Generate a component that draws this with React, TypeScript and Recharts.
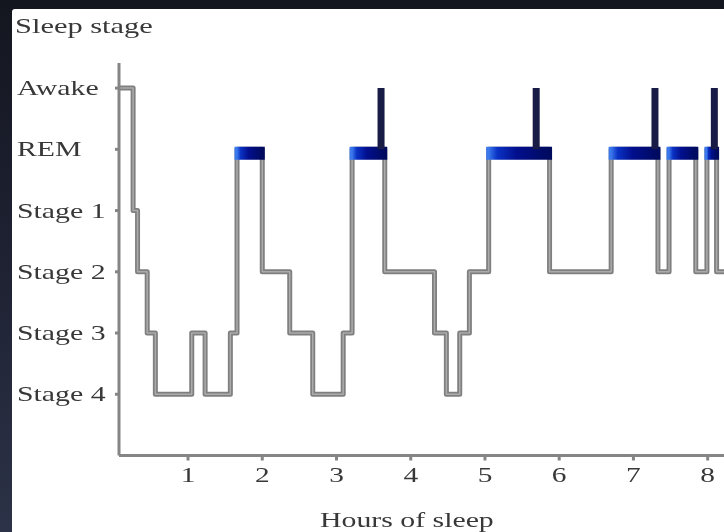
import { LineChart, Line, XAxis, YAxis, ReferenceArea, Label } from 'recharts';

const SERIF = '"Liberation Serif", "Times New Roman", serif';

const STAGE_LABELS = ['Stage 4', 'Stage 3', 'Stage 2', 'Stage 1', 'REM', 'Awake'];
const STAGE_TICKS = [1, 2, 3, 4, 5, 6];
const HOUR_TICKS = [1, 2, 3, 4, 5, 6, 7, 8];

// hypnogram: hour at which each stage starts (held until the next one)
const STEP_HOURS = [
    0.07, 0.26, 0.32, 0.45, 0.56, 1.05, 1.23, 1.57, 1.66, 2.0, 2.37, 2.68, 3.09, 3.21,
    3.65, 4.32, 4.48, 4.66, 4.79, 5.05, 5.87, 6.7, 7.33, 7.48, 7.84, 7.99, 8.12, 8.22,
];
const STEP_STAGES = [
    6, 4, 3, 2, 1, 2, 1, 2, 5, 3, 2, 1, 2, 5,
    3, 2, 1, 2, 3, 5, 3, 5, 3, 5, 3, 5, 3, 3,
];

// short awakenings at the end of REM periods
const AWAKE_HOURS = [3.6, 5.69, 7.29, 8.09];

const REM = 5;
const AWAKE = 6;
const REM_BAR_DEPTH = 0.13;

const hypnogram = STEP_HOURS.map((t, i) => ({ t, stage: STEP_STAGES[i] }));

const remPeriods = hypnogram
    .map((d, i) => (d.stage === REM && i < hypnogram.length - 1 ? [d.t, hypnogram[i + 1].t] : null))
    .filter((p): p is number[] => p !== null);

const awakeSpikes = AWAKE_HOURS.flatMap((t) => [
    { t, stage: REM },
    { t, stage: AWAKE },
    { t, stage: null },
]);

function StageTick({ y, payload }: any) {
    return (
        <text
            transform={`translate(17, ${y + 7}) scale(1.42, 1)`}
            fill="#383838"
            fontSize={21}
            fontFamily={SERIF}
        >
            {STAGE_LABELS[payload.value - 1]}
        </text>
    );
}

function HourTick({ x, y, payload }: any) {
    return (
        <text
            transform={`translate(${x}, ${y + 19}) scale(1.4, 1)`}
            textAnchor="middle"
            fill="#383838"
            fontSize={21}
            fontFamily={SERIF}
        >
            {payload.value}
        </text>
    );
}

export default function App() {
    return (
        <div
            style={{
                position: 'absolute',
                left: 0,
                top: 0,
                width: 724,
                height: 532,
                overflow: 'hidden',
                background: 'linear-gradient(180deg, #14161f 0%, #1e2233 50%, #2c3247 100%)',
            }}
        >
            <div
                style={{
                    position: 'absolute',
                    left: 12,
                    top: 9,
                    right: 0,
                    bottom: 0,
                    background: '#ffffff',
                    borderTopLeftRadius: 3,
                }}
            />
            <div style={{ position: 'absolute', left: 0, top: 0, filter: 'blur(0.7px)' }}>
                <LineChart
                    width={724}
                    height={532}
                    data={hypnogram}
                    margin={{ top: 63, right: 0, bottom: 0, left: 0 }}
                >
                    <defs>
                        <linearGradient id="remGrad" x1="0" y1="0" x2="1" y2="0">
                            <stop offset="0%" stopColor="#3a78ec" />
                            <stop offset="14%" stopColor="#0a32c4" />
                            <stop offset="45%" stopColor="#020f8e" />
                            <stop offset="100%" stopColor="#000a5e" />
                        </linearGradient>
                    </defs>
                    <XAxis
                        type="number"
                        dataKey="t"
                        domain={[0.07, 8.22]}
                        ticks={HOUR_TICKS}
                        height={76.5}
                        stroke="#858585"
                        strokeWidth={3}
                        tickSize={5}
                        tick={<HourTick />}
                    >
                        <Label
                            content={() => (
                                <text
                                    transform="translate(320, 527) scale(1.42, 1)"
                                    fill="#383838"
                                    fontSize={21}
                                    fontFamily={SERIF}
                                >
                                    Hours of sleep
                                </text>
                            )}
                        />
                    </XAxis>
                    <YAxis
                        type="number"
                        domain={[0, 6.41]}
                        ticks={STAGE_TICKS}
                        width={119}
                        stroke="#858585"
                        strokeWidth={3}
                        tickSize={4}
                        tick={<StageTick />}
                    >
                        <Label
                            content={() => (
                                <text
                                    transform="translate(15, 33) scale(1.45, 1)"
                                    fill="#383838"
                                    fontSize={21}
                                    fontFamily={SERIF}
                                >
                                    Sleep stage
                                </text>
                            )}
                        />
                    </YAxis>

                    <Line
                        type="stepAfter"
                        dataKey="stage"
                        stroke="#7f7f7f"
                        strokeWidth={5}
                        strokeLinejoin="round"
                        dot={false}
                        isAnimationActive={false}
                    />
                    <Line
                        type="stepAfter"
                        dataKey="stage"
                        stroke="#ababab"
                        strokeWidth={1.5}
                        strokeLinejoin="round"
                        dot={false}
                        isAnimationActive={false}
                    />

                    {remPeriods.map(([start, end]) => (
                        <ReferenceArea
                            key={start}
                            x1={start}
                            x2={end}
                            y1={REM - REM_BAR_DEPTH}
                            y2={REM}
                            fill="url(#remGrad)"
                            fillOpacity={1}
                            stroke="url(#remGrad)"
                            strokeWidth={5}
                            zIndex={450}
                        />
                    ))}

                    <Line
                        data={awakeSpikes}
                        type="linear"
                        dataKey="stage"
                        stroke="#171b45"
                        strokeWidth={7}
                        dot={false}
                        connectNulls={false}
                        isAnimationActive={false}
                        zIndex={500}
                    />
                </LineChart>
            </div>
        </div>
    );
}
